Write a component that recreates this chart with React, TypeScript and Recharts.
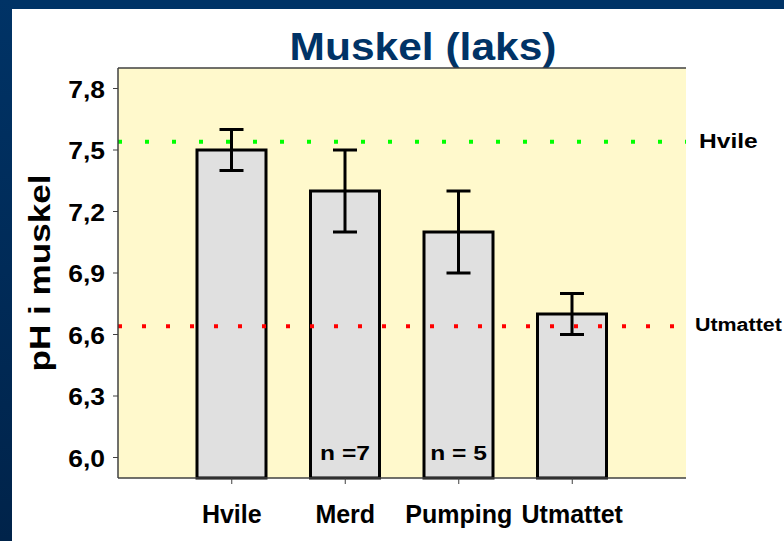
import {
  BarChart,
  Bar,
  XAxis,
  YAxis,
  CartesianGrid,
  ReferenceLine,
  ErrorBar,
  LabelList,
} from "recharts";

const categories = ["Hvile", "Merd", "Pumping", "Utmattet"];
const phValues = [7.5, 7.3, 7.1, 6.7];
const phErrors = [0.1, 0.2, 0.2, 0.1];
const nLabels = ["", "n =7", "n = 5", ""];
const yTicks = [6.0, 6.3, 6.6, 6.9, 7.2, 7.5, 7.8];
const yDomain = [5.9, 7.9];
const restLevel = 7.54;
const exhaustedLevel = 6.64;

const data = categories.map((name, i) => ({
  name,
  ph: phValues[i],
  err: phErrors[i],
  n: nLabels[i],
}));

const FONT = "'Liberation Sans', Arial, Helvetica, sans-serif";
const NAVY = "#003366";
const FRAME = "#404040";

function StretchText({ x, y, text, size, sx = 1, anchor = "middle", fill = "#000", rotate = 0 }: any) {
  return (
    <g transform={`translate(${x},${y}) rotate(${rotate}) scale(${sx},1)`}>
      <text x={0} y={0} textAnchor={anchor} fontFamily={FONT} fontWeight="bold" fontSize={size} fill={fill}>
        {text}
      </text>
    </g>
  );
}

const YTick = ({ x, y, payload }: any) => (
  <StretchText x={x} y={y + 9} text={Number(payload.value).toFixed(1).replace(".", ",")} size={23} sx={1.15} anchor="end" />
);

const XTick = ({ x, y, payload }: any) => (
  <StretchText x={x} y={y + 37} text={payload.value} size={25} />
);

const NLabel = ({ x, y, width, height, value }: any) =>
  value ? <StretchText x={x + width / 2} y={y + height - 18} text={value} size={21} sx={1.17} /> : null;

const sideLabel = (text: string, size: number, sx: number, dx: number, dy: number) => (props: any) => {
  const vb = props.viewBox || {};
  return <StretchText x={vb.x + vb.width + dx} y={vb.y + dy} text={text} size={size} sx={sx} anchor="start" />;
};

export default function App() {
  return (
    <div style={{ position: "absolute", left: 0, top: 0, width: 784, height: 541, background: "#fff", overflow: "hidden" }}>
      <div style={{ position: "absolute", left: 0, top: 0, width: 784, height: 9, background: NAVY }} />
      <div style={{ position: "absolute", left: 0, top: 0, width: 12, height: 541, background: "linear-gradient(#003366, #00234a)" }} />
      <BarChart width={784} height={541} data={data} margin={{ top: 68, right: 98, bottom: 0, left: 0 }}>
        <CartesianGrid horizontal={false} vertical={false} fill="#FFF9CC" />
        <XAxis
          dataKey="name"
          height={63}
          padding={{ left: 57, right: 57 }}
          axisLine={{ stroke: FRAME, strokeWidth: 1.5 }}
          tickLine={{ stroke: FRAME }}
          tickSize={6}
          tick={<XTick />}
          interval={0}
        />
        <YAxis
          yAxisId="left"
          type="number"
          domain={yDomain}
          ticks={yTicks}
          width={118}
          tickSize={5}
          tickMargin={8}
          axisLine={{ stroke: FRAME, strokeWidth: 1.5 }}
          tickLine={{ stroke: FRAME }}
          tick={<YTick />}
          label={{
            content: () => <StretchText x={50} y={273} text="pH i muskel" size={30} sx={1.17} rotate={-90} />,
          }}
        />
        <YAxis
          yAxisId="right"
          orientation="right"
          type="number"
          domain={yDomain}
          ticks={yTicks}
          width={0}
          mirror
          tickSize={5}
          tick={false}
          axisLine={{ stroke: FRAME, strokeWidth: 1.5 }}
          tickLine={{ stroke: FRAME }}
        />
        <Bar
          yAxisId="left"
          dataKey="ph"
          barSize={69}
          fill="#E0E0E0"
          stroke="#000"
          strokeWidth={3}
          isAnimationActive={false}
        >
          <ErrorBar dataKey="err" width={12} stroke="#000" strokeWidth={3} direction="y" />
          <LabelList dataKey="n" content={<NLabel />} />
        </Bar>
        <ReferenceLine
          yAxisId="left"
          y={restLevel}
          stroke="#00FF00"
          strokeWidth={4}
          strokeDasharray="4 23"
          label={{ content: sideLabel("Hvile", 21, 1.17, 13, 6.5) }}
        />
        <ReferenceLine
          yAxisId="left"
          y={exhaustedLevel}
          stroke="#FF0000"
          strokeWidth={4}
          strokeDasharray="4 20"
          label={{ content: sideLabel("Utmattet", 18, 1.19, 9, 4.5) }}
        />
        <ReferenceLine yAxisId="left" y={yDomain[1]} stroke={FRAME} strokeWidth={1.5} />
        <StretchText x={423} y={60} text="Muskel (laks)" size={39} sx={1.09} fill={NAVY} />
      </BarChart>
    </div>
  );
}
